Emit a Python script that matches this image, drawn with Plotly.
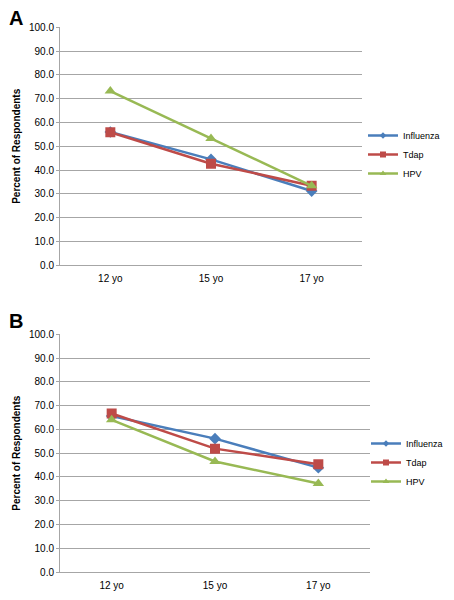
import plotly.graph_objects as go

categories = ["12 yo", "15 yo", "17 yo"]

# Panel A
a_influenza = [56.0, 44.5, 31.2]
a_tdap = [55.9, 42.7, 33.4]
a_hpv = [73.2, 53.3, 33.4]

# Panel B
b_influenza = [65.6, 56.1, 43.9]
b_tdap = [66.7, 51.9, 45.3]
b_hpv = [64.0, 46.5, 37.2]

series_names = ["Influenza", "Tdap", "HPV"]
colors = ["#4a7ebb", "#be4b48", "#98b954"]
symbols = ["diamond", "square", "triangle-up"]
msizes = [9, 10, 10]
legend_msizes = [5, 6, 6]

# the page body has an 8px margin; lay out in page pixels
OFF = 8
W, H = 454 - OFF, 600 - OFF
FONT = "Liberation Sans, Arial, sans-serif"


def xp(px):
    return (px - OFF) / W


def yp(py):
    return 1 - (py - OFF) / H


fig = go.Figure()

for panel, data, xa, ya, lg in [
    ("A", [a_influenza, a_tdap, a_hpv], "x", "y", "legend"),
    ("B", [b_influenza, b_tdap, b_hpv], "x2", "y2", "legend2"),
]:
    for name, vals, c, s, ms, lms in zip(series_names, data, colors, symbols, msizes, legend_msizes):
        fig.add_trace(go.Scatter(
            x=categories, y=vals, name=name, mode="lines+markers",
            line=dict(color=c, width=2.5),
            marker=dict(symbol=s, size=ms, color=c),
            xaxis=xa, yaxis=ya, showlegend=False,
        ))
        # legend-only entry with smaller marker
        fig.add_trace(go.Scatter(
            x=[None], y=[None], name=name, mode="lines+markers",
            line=dict(color=c, width=2.5),
            marker=dict(symbol=s, size=lms, color=c),
            xaxis=xa, yaxis=ya, legend=lg, showlegend=True,
        ))

yaxis_common = dict(
    range=[0, 100], dtick=10, tickformat=".1f",
    showgrid=True, gridcolor="#a6a6a6", gridwidth=1,
    showline=True, linecolor="#a6a6a6", linewidth=1,
    ticks="outside", ticklen=3, tickcolor="#a6a6a6",
    tickfont=dict(family=FONT, size=10, color="#000"),
    title=dict(text="<b>Percent of Respondents</b>",
               font=dict(family=FONT, size=10, color="#000"), standoff=6),
    zeroline=False, fixedrange=True, automargin=False,
)
xaxis_common = dict(
    type="category", range=[-0.5, 2.5],
    showgrid=False, showline=True, linecolor="#a6a6a6", linewidth=1,
    ticks="", tickfont=dict(family=FONT, size=10, color="#000"),
    ticklabelstandoff=4,
    zeroline=False, automargin=False,
)

legend_common = dict(
    xanchor="left", yanchor="top",
    font=dict(family=FONT, size=9, color="#000"),
    itemwidth=30, tracegroupgap=0, bgcolor="rgba(0,0,0,0)",
)

fig.update_layout(
    width=W, height=H,
    margin=dict(l=0, r=0, t=0, b=0, autoexpand=False),
    paper_bgcolor="white", plot_bgcolor="white",
    showlegend=True,
    xaxis=dict(domain=[xp(60), xp(362)], anchor="y", **xaxis_common),
    yaxis=dict(domain=[yp(265.3), yp(27.3)], anchor="x", **yaxis_common),
    xaxis2=dict(domain=[xp(60), xp(370)], anchor="y2", **xaxis_common),
    yaxis2=dict(domain=[yp(572), yp(334.3)], anchor="x2", **yaxis_common),
    legend=dict(x=xp(363), y=yp(121), **legend_common),
    legend2=dict(x=xp(366), y=yp(429), **legend_common),
    annotations=[
        dict(text="<b>A</b>", x=xp(16), y=yp(18), xref="paper", yref="paper",
             xanchor="center", yanchor="middle", showarrow=False,
             font=dict(family=FONT, size=20, color="#000")),
        dict(text="<b>B</b>", x=xp(16), y=yp(321), xref="paper", yref="paper",
             xanchor="center", yanchor="middle", showarrow=False,
             font=dict(family=FONT, size=20, color="#000")),
    ],
)

fig.write_html("out.html")
